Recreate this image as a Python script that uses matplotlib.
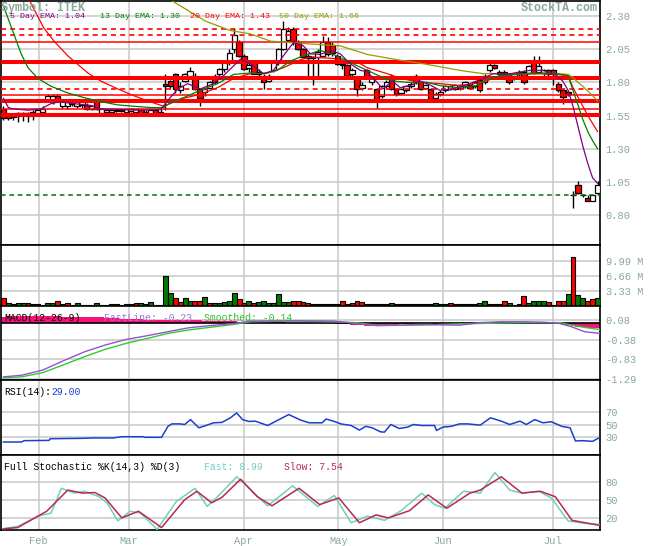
import numpy as np
import matplotlib.pyplot as plt

plt.rcParams['font.family'] = ['Liberation Mono', 'DejaVu Sans Mono']

# ----------- price candles (one per trading day)
opens = [1.60, 1.555, 1.54, 1.55, 1.555, 1.55, 1.56, 1.57, 1.58, 1.66,
         1.66, 1.70, 1.62, 1.62, 1.66, 1.62, 1.63, 1.63, 1.60, 1.66,
         1.57, 1.575, 1.58, 1.585, 1.585, 1.58, 1.585, 1.58, 1.595, 1.58,
         1.565, 1.59, 1.58, 1.79, 1.81, 1.86, 1.74, 1.81, 1.85, 1.85,
         1.75, 1.73, 1.76, 1.85, 1.86, 1.90, 1.95, 2.05, 2.10, 2.00,
         1.91, 1.95, 1.86, 1.85, 1.81, 1.89, 1.95, 2.05, 2.12, 2.20,
         2.10, 2.05, 2.00, 1.98, 1.99, 2.00, 2.10, 2.08, 2.00, 1.93,
         1.93, 1.86, 1.84, 1.76, 1.89, 1.80, 1.75, 1.70, 1.77, 1.85,
         1.75, 1.72, 1.74, 1.77, 1.85, 1.80, 1.76, 1.75, 1.68, 1.71,
         1.74, 1.75, 1.75, 1.76, 1.77, 1.78, 1.77, 1.82, 1.80, 1.89,
         1.93, 1.88, 1.86, 1.86, 1.83, 1.86, 1.88, 1.87, 1.95, 1.88,
         1.87, 1.89, 1.89, 1.79, 1.74, 1.73, 0.95, 1.025, 0.955, 0.93,
         0.91, 0.97]
highs = [1.62, 1.57, 1.57, 1.58, 1.575, 1.575, 1.59, 1.60, 1.62, 1.71,
         1.71, 1.71, 1.67, 1.66, 1.67, 1.66, 1.66, 1.645, 1.63, 1.665,
         1.61, 1.60, 1.60, 1.595, 1.595, 1.60, 1.61, 1.60, 1.60, 1.59,
         1.60, 1.60, 1.60, 1.865, 1.82, 1.87, 1.80, 1.87, 1.915, 1.87,
         1.76, 1.76, 1.81, 1.86, 1.91, 1.97, 2.05, 2.21, 2.12, 2.01,
         1.95, 1.96, 1.90, 1.86, 1.86, 1.96, 2.06, 2.26, 2.22, 2.22,
         2.12, 2.06, 2.02, 2.00, 2.05, 2.15, 2.14, 2.10, 2.01, 1.96,
         1.94, 1.91, 1.85, 1.80, 1.90, 1.85, 1.76, 1.78, 1.82, 1.86,
         1.76, 1.76, 1.78, 1.80, 1.86, 1.81, 1.79, 1.76, 1.73, 1.74,
         1.78, 1.78, 1.79, 1.79, 1.81, 1.79, 1.81, 1.83, 1.86, 1.95,
         1.94, 1.89, 1.89, 1.87, 1.87, 1.89, 1.89, 1.93, 2.00, 2.00,
         1.90, 1.90, 1.90, 1.80, 1.75, 1.74, 0.98, 1.06, 0.96, 0.95,
         0.95, 1.06]
lows = [1.52, 1.52, 1.52, 1.50, 1.51, 1.50, 1.52, 1.55, 1.57, 1.65,
        1.64, 1.65, 1.61, 1.60, 1.62, 1.61, 1.61, 1.59, 1.59, 1.59,
        1.56, 1.56, 1.565, 1.575, 1.575, 1.57, 1.575, 1.57, 1.55, 1.555,
        1.56, 1.555, 1.555, 1.59, 1.76, 1.72, 1.72, 1.80, 1.84, 1.74,
        1.62, 1.70, 1.75, 1.79, 1.85, 1.88, 1.93, 2.02, 1.99, 1.89,
        1.88, 1.86, 1.84, 1.75, 1.80, 1.88, 1.93, 2.04, 2.10, 2.08,
        2.04, 1.98, 1.85, 1.78, 1.85, 1.99, 2.00, 2.00, 1.93, 1.90,
        1.84, 1.85, 1.70, 1.74, 1.83, 1.78, 1.61, 1.68, 1.75, 1.74,
        1.70, 1.71, 1.73, 1.76, 1.79, 1.74, 1.75, 1.65, 1.66, 1.70,
        1.73, 1.74, 1.74, 1.74, 1.76, 1.75, 1.76, 1.73, 1.79, 1.88,
        1.90, 1.85, 1.85, 1.79, 1.82, 1.85, 1.79, 1.86, 1.86, 1.87,
        1.85, 1.84, 1.78, 1.73, 1.64, 1.70, 0.85, 0.96, 0.94, 0.91,
        0.91, 0.96]
closes = [1.53, 1.53, 1.555, 1.57, 1.57, 1.57, 1.58, 1.59, 1.60, 1.70,
          1.70, 1.66, 1.66, 1.65, 1.635, 1.65, 1.65, 1.60, 1.625, 1.60,
          1.60, 1.595, 1.59, 1.59, 1.585, 1.60, 1.60, 1.60, 1.56, 1.565,
          1.59, 1.56, 1.565, 1.77, 1.775, 1.75, 1.77, 1.865, 1.885, 1.75,
          1.68, 1.75, 1.80, 1.80, 1.90, 1.95, 2.02, 2.16, 2.00, 1.90,
          1.93, 1.865, 1.88, 1.80, 1.85, 1.95, 2.05, 2.20, 2.19, 2.11,
          2.05, 1.99, 1.98, 1.99, 2.03, 2.10, 2.01, 2.02, 1.94, 1.94,
          1.85, 1.89, 1.75, 1.78, 1.84, 1.84, 1.66, 1.77, 1.80, 1.75,
          1.71, 1.75, 1.77, 1.79, 1.80, 1.75, 1.78, 1.67, 1.71, 1.73,
          1.77, 1.77, 1.78, 1.78, 1.80, 1.76, 1.80, 1.74, 1.85, 1.93,
          1.91, 1.86, 1.88, 1.80, 1.86, 1.88, 1.80, 1.92, 1.87, 1.92,
          1.89, 1.86, 1.87, 1.74, 1.69, 1.71, 0.95, 0.965, 0.95, 0.91,
          0.95, 1.03]

# support / resistance levels
sr_dashed = [2.20, 2.155, 1.752]
sr_thin = [2.105, 1.707, 1.60]
sr_thick = [1.955, 1.833, 1.657, 1.557]
stop_level = [0.948]

# ----------- moving averages (read at points along each curve)
ema5_x = [0, 1, 2, 5, 7.6, 9.7, 11.7, 14.3, 17.8, 19.8, 23.9, 28, 32, 33.4, 35.5,
          37.5, 40.1, 42.8, 44.8, 46.9, 48.3, 50.3, 53, 55, 57, 59.1, 61.1, 62.5, 64.5,
          66.6, 68.6, 70.6, 72.7, 74.1, 76.1, 77.3, 79.2, 80.8, 82.8, 84.9, 86.9, 88.9,
          91.6, 95, 97.7, 99.7, 103.2, 107.2, 109.9, 112.7, 113.9, 115, 116, 117, 118,
          119, 120, 121]
ema5_v = [1.68, 1.61, 1.60, 1.59, 1.60, 1.64, 1.655, 1.64, 1.625, 1.60, 1.595, 1.59, 1.595,
          1.66, 1.75, 1.79, 1.75, 1.79, 1.85, 1.925, 1.975, 1.94, 1.865, 1.89, 2.00, 2.10,
          2.075, 2.015, 2.01, 2.04, 2.015, 1.94, 1.89, 1.88, 1.80, 1.75, 1.81, 1.76, 1.775,
          1.81, 1.78, 1.74, 1.75, 1.79, 1.83, 1.865, 1.865, 1.89, 1.89, 1.85, 1.81, 1.74,
          1.62, 1.47, 1.32, 1.19, 1.08, 1.04]
ema13_x = [0, 1.5, 3.6, 5, 7, 9.7, 13.1, 16.4, 19.8, 23.3, 26.5, 30, 32.6, 34.1, 36.7,
           40.1, 43.6, 46.9, 50.3, 53, 55.8, 58.4, 61.1, 64.5, 67.2, 70.6, 74.1, 77.3,
           79.4, 82.2, 86.3, 88.9, 92.4, 96.4, 97.7, 101.1, 107.8, 111.9, 115, 116, 117,
           118, 119, 120, 121]
ema13_v = [2.375, 2.225, 2.015, 1.91, 1.83, 1.77, 1.72, 1.685, 1.655, 1.63, 1.62, 1.61,
           1.61, 1.65, 1.685, 1.74, 1.79, 1.86, 1.87, 1.865, 1.89, 1.96, 2.00, 2.04, 2.01,
           1.95, 1.89, 1.835, 1.81, 1.80, 1.80, 1.775, 1.76, 1.775, 1.81, 1.85, 1.87, 1.87,
           1.85, 1.74, 1.63, 1.52, 1.43, 1.36, 1.30]
ema20_x = [5.4, 8.2, 10.3, 13.1, 17.2, 19.8, 23.3, 26.5, 29.4, 32.6, 36.7, 40.1, 43.6,
           46.9, 50.3, 53.8, 57, 60.5, 62.5, 67.2, 72.7, 74.1, 78.2, 80.8, 84.9, 88.9, 93,
           97.7, 99.7, 104.6, 111.3, 115, 116, 117, 118, 119, 120, 121]
ema20_v = [2.41, 2.21, 2.11, 2.00, 1.87, 1.81, 1.75, 1.70, 1.66, 1.62, 1.68, 1.71, 1.76,
           1.83, 1.865, 1.87, 1.91, 1.97, 1.99, 1.98, 1.94, 1.91, 1.865, 1.83, 1.80, 1.79,
           1.775, 1.80, 1.83, 1.865, 1.865, 1.85, 1.76, 1.69, 1.62, 1.55, 1.49, 1.43]
ema50_x = [34.5, 41.2, 46.2, 50.3, 54.4, 60.5, 62, 68.6, 74.1, 80.2, 85.5, 93, 97.7, 104.6,
           112.7, 115, 116, 117, 118, 119, 120, 121]
ema50_v = [2.41, 2.26, 2.19, 2.165, 2.11, 2.095, 2.09, 2.075, 2.01, 1.97, 1.94, 1.89, 1.865,
           1.865, 1.865, 1.86, 1.835, 1.80, 1.77, 1.735, 1.70, 1.66]

# ----------- volume (millions), g = up day, r = down day
volume = [1.7, 0.6, 0.4, 0.6, 0.6, 0.6, 0.4, 0.4, 0.3, 0.6,
          0.6, 1.1, 0.4, 0.6, 0.3, 0.6, 0.2, 0.2, 0.2, 0.6,
          0.2, 0.2, 0.4, 0.4, 0.2, 0.4, 0.4, 0.6, 0.6, 0.4,
          0.8, 0.3, 0.3, 6.7, 2.8, 1.7, 0.9, 1.7, 1.2, 1.2,
          1.2, 1.9, 0.6, 0.6, 0.6, 0.8, 1.2, 2.8, 1.5, 0.6,
          1.2, 0.6, 0.85, 1.0, 0.6, 0.6, 2.6, 0.8, 0.8, 1.2,
          1.1, 0.85, 0.75, 0.55, 0.55, 0.55, 0.5, 0.5, 0.5, 1.0,
          0.45, 0.7, 1.2, 0.85, 0.5, 0.45, 0.45, 0.45, 0.45, 0.75,
          0.45, 0.45, 0.5, 0.45, 0.4, 0.45, 0.45, 0.5, 0.6, 0.5,
          0.45, 0.6, 0.4, 0.5, 0.5, 0.5, 0.45, 0.6, 1.0, 0.5,
          0.45, 0.5, 1.1, 0.6, 0.3, 0.5, 2.2, 0.6, 1.2, 1.1,
          1.2, 0.8, 0.3, 1.2, 1.1, 2.6, 10.9, 2.5, 1.8, 1.2,
          1.45, 1.7]
vol_dir = ("rggggrgrgg" "grgrggggrg" "ggggrgrrgg" "gggggrrggr" "rgrgggggrr"
           "grgggggggr" "rrrggggrgr" "grrrgggrgg" "rgrggggrgg" "grrggrgggr"
           "rrrgggrggg" "grgrrgrggr" "rg")

# ----------- MACD
macd_x = [0, 3.7, 8, 12.2, 16.5, 20.7, 25, 29.2, 33.5, 37.7, 42, 47, 50.4, 59, 67.4,
          71.7, 76, 81, 84.4, 92.9, 97.1, 101.4, 105.6, 109.9, 113.3, 115.8, 118.3, 121.5]
macd_fast = [-1.237, -1.20, -1.08, -0.865, -0.657, -0.50, -0.37, -0.285, -0.19, -0.10,
             -0.05, 0.0, 0.056, 0.063, 0.056, 0.0, -0.05, -0.04, -0.02, -0.04,
             0.02, 0.04, 0.04, 0.03, 0.0, -0.08, -0.19, -0.23]
macd_slow = [-1.26, -1.237, -1.14, -0.96, -0.77, -0.60, -0.46, -0.35, -0.23, -0.15,
             -0.09, -0.02, 0.04, 0.056, 0.04, 0.02, -0.04, -0.04, -0.04, -0.01,
             0.0, 0.01, 0.02, 0.02, 0.02, -0.04, -0.09, -0.14]
macd_hist = [0.16, 0.17, 0.17, 0.17, 0.18, 0.18, 0.17, 0.17, 0.17, 0.17,
             0.17, 0.17, 0.16, 0.16, 0.16, 0.16, 0.15, 0.15, 0.15, 0.14,
             0.14, 0.13, 0.12, 0.12, 0.11, 0.11, 0.10, 0.10, 0.10, 0.09,
             0.09, 0.09, 0.08, 0.09, 0.09, 0.08, 0.08, 0.08, 0.07, 0.07,
             0.07, 0.06, 0.06, 0.06, 0.05, 0.05, 0.05, 0.05, 0.04, 0.04,
             0.04, 0.04, 0.03, 0.03, 0.03, 0.03, 0.03, 0.03, 0.02, 0.02,
             0.02, 0.02, 0.01, 0.01, 0.01, 0.01, 0.00, 0.00, -0.01, -0.02,
             -0.02, -0.03, -0.04, -0.04, -0.05, -0.05, -0.04, -0.04, -0.03, -0.04,
             -0.03, -0.02, -0.02, -0.01, -0.01, -0.01, 0.00, 0.00, -0.01, 0.00,
             0.00, 0.00, 0.00, 0.01, 0.01, 0.01, 0.01, 0.02, 0.02, 0.02,
             0.02, 0.03, 0.02, 0.02, 0.01, 0.01, 0.01, 0.00, 0.00, 0.00,
             0.00, 0.00, -0.01, -0.02, -0.03, -0.04, -0.06, -0.08, -0.09, -0.10,
             -0.10, -0.11]

# ----------- RSI(14)
rsi_x = [0, 3.7, 4.2, 9.3, 9.5, 15.6, 18.6, 22.4, 24.1, 28.4, 28.8, 32.2, 33.5, 34.3,
         36, 36.9, 38.1, 39.8, 41.1, 42.8, 44.5, 46.2, 47.5, 48.7, 50, 51.3, 53.8, 58.1,
         60.6, 62.3, 64.9, 65.7, 67.4, 68.7, 70.8, 72.5, 73.8, 75.1, 76.8, 77.6, 78.9,
         80.6, 82.3, 83.5, 85.2, 87.8, 88.2, 89.5, 91.2, 92.9, 94.6, 97.1, 99.2, 101.4,
         103.1, 105.2, 106.5, 108.2, 109.9, 111.6, 113.7, 115.4, 116.5, 117.9, 120, 121.5]
rsi_v = [21.3, 21.3, 23.5, 24, 26.7, 27.3, 28, 28, 30, 30, 29, 29, 47, 51, 51, 50, 58,
         44.6, 48, 52.8, 53.5, 60.9, 69, 58, 55, 55.5, 48.4, 66.3, 57, 52.8, 52.8, 59, 55,
         51, 48.4, 40.8, 47, 44.6, 38, 37.5, 50, 43.5, 45.7, 50, 48.4, 48.4, 40.3, 45.7,
         47, 51, 51, 49, 61, 55.5, 50, 55.5, 50, 58, 52.8, 54.5, 47, 44.6, 23, 23.5,
         22.4, 29.00]

# ----------- Full stochastic
stk_x = [0, 2.9, 7.1, 9.7, 11.8, 14.4, 16.5, 19.5, 21.1, 23.3, 25.8, 27.9, 31.3, 35.2,
         39, 41.5, 43.6, 47.5, 50.4, 53.8, 58.9, 64, 67.4, 70.8, 74.2, 77.6, 81, 85.2,
         87.8, 89.9, 93.7, 97.1, 100.1, 103.1, 105.6, 109, 111.6, 115, 118.3, 121.5]
stk_v = [2, 6, 23, 28, 69, 61, 64, 55, 45, 15, 31, 28, 1, 47, 69, 39, 55, 88, 66, 40,
         73, 39, 57, 12, 23, 16, 32, 61, 42, 36, 64, 61, 95, 66, 61, 64, 53, 15, 11, 8.99]
std_x = [0, 2.9, 8.8, 13.1, 16.1, 18.6, 20.7, 24.1, 27.5, 32.2, 36.9, 39.4, 42.4, 44.5,
         48.3, 51.7, 54.7, 60.2, 64.4, 68.3, 72.5, 75.9, 78.4, 82.7, 86.5, 90.3, 95, 97.1,
         101.4, 105.6, 109.4, 112.4, 115.8, 121.5]
std_v = [2, 4, 31, 66, 61, 62, 53, 20, 31, 4, 50, 64, 45, 54, 84, 55, 40, 69, 42, 53,
         12, 25, 20, 32, 58, 36, 61, 66, 88, 61, 64, 55, 16, 7.54]

month_pos = [7.2, 25.5, 48.9, 68.2, 89.5, 111.9]
month_names = ['Feb', 'Mar', 'Apr', 'May', 'Jun', 'Jul']

# ----------- colors
gray = '#8aa89c'
c5, c13, c20, c50 = '#800080', '#008000', '#ff0000', '#999900'

# ----------- figure
W, H = 655, 546
fig = plt.figure(figsize=(W / 100, H / 100), dpi=100)


def panel(top, bottom):
    return fig.add_axes([1 / W, 1 - bottom / H, 599 / W, (bottom - top) / H])


def style(ax, ylim, yticks, ylabels):
    ax.set_xlim(-0.5, 121.5)
    ax.set_ylim(*ylim)
    ax.set_xticks(month_pos)
    ax.set_xticklabels([])
    ax.set_yticks(yticks)
    ax.set_yticklabels(ylabels)
    ax.yaxis.tick_right()
    ax.tick_params(length=0, labelsize=7.5, labelcolor=gray, pad=4)
    ax.grid(True, color='#c8c8c8', lw=1.1)
    ax.set_axisbelow(True)
    for s in ax.spines.values():
        s.set_linewidth(1.2)


def label(x, y, s, c, size=7, **kw):
    fig.text(x / W, 1 - y / H, s, color=c, fontsize=size, va='center', ha='left', **kw)


x = np.arange(len(closes))
o = np.array(opens)
cl = np.array(closes)

# ----------- price panel
ax_p = panel(1, 245)
price_ticks = [0.80, 1.05, 1.30, 1.55, 1.80, 2.05, 2.30]
style(ax_p, (0.575, 2.4125), price_ticks, ['%.2f' % t for t in price_ticks])
ax_p.vlines(x, lows, highs, color='black', lw=1, zorder=2)
body = np.maximum(np.abs(cl - o), 0.004)
ax_p.bar(x, body, bottom=np.minimum(o, cl), width=1.1,
         color=np.where(cl >= o, 'white', '#ff0000'), edgecolor='black', lw=0.9, zorder=3)
for lv in sr_thick:
    ax_p.axhline(lv, color='#ff0000', lw=2.9, zorder=4)
for lv in sr_thin:
    ax_p.axhline(lv, color='#ff0000', lw=1.1, zorder=4)
for lv in sr_dashed:
    ax_p.axhline(lv, color='#ff0000', lw=1.2, ls=(0, (3, 2.5)), zorder=4)
for lv in stop_level:
    ax_p.axhline(lv, color='#006f00', lw=1.1, ls=(0, (3, 2.5)), zorder=4)
ax_p.plot(ema50_x, ema50_v, color=c50, lw=0.9, zorder=5)
ax_p.plot(ema20_x, ema20_v, color=c20, lw=0.9, zorder=5)
ax_p.plot(ema13_x, ema13_v, color=c13, lw=0.9, zorder=5)
ax_p.plot(ema5_x, ema5_v, color=c5, lw=0.9, zorder=5)

label(1, 8, 'Symbol: ITEK', gray, 8.5, fontweight='bold')
label(521, 8, 'StockTA.com', gray, 8.5, fontweight='bold')
label(10, 16, '5 Day EMA: %.2f' % ema5_v[-1], c5, 6)
label(100, 16, '13 Day EMA: %.2f' % ema13_v[-1], c13, 6)
label(190, 16, '20 Day EMA: %.2f' % ema20_v[-1], c20, 6)
label(279, 16, '50 Day EMA: %.2f' % ema50_v[-1], c50, 6)

# ----------- volume panel
ax_v = panel(245, 306)
style(ax_v, (0, 13.5), [3.33, 6.66, 9.99], ['3.33 M', '6.66 M', '9.99 M'])
vcol = ['#007a00' if d == 'g' else '#ff0000' for d in vol_dir]
ax_v.bar(x, volume, width=1.0, color=vcol, edgecolor='black', lw=0.8, zorder=3)

# ----------- MACD panel
ax_m = panel(306, 380)
macd_ticks = [0.08, -0.38, -0.83, -1.29]
style(ax_m, (-1.31, 0.405), macd_ticks, ['%.2f' % t for t in macd_ticks])
ax_m.bar(x, macd_hist, width=1.0, color='#f5137a', lw=0, zorder=2)
ax_m.axhline(0, color='black', lw=1.2, zorder=2.5)
ax_m.plot(macd_x, macd_slow, color='#2ecc2e', lw=1, zorder=3)
ax_m.plot(macd_x, macd_fast, color='#9b4fd0', lw=1, zorder=3)
label(4, 318, 'MACD(12-26-9)', 'black')
label(104, 318, 'FastLine: %.2f' % macd_fast[-1], '#a070d0')
label(204, 318, 'Smoothed: %.2f' % macd_slow[-1], '#30c030')

# ----------- RSI panel
ax_r = panel(380, 455)
style(ax_r, (0, 123), [30, 50, 70], ['30', '50', '70'])
ax_r.plot(rsi_x, rsi_v, color='#1a3fd0', lw=1.1, zorder=3)
label(4, 392, 'RSI(14):', 'black')
label(51, 392, '%.2f' % rsi_v[-1], '#1a3fd0')

# ----------- stochastic panel
ax_s = panel(455, 530)
style(ax_s, (0, 124), [20, 50, 80], ['20', '50', '80'])
ax_s.plot(stk_x, stk_v, color='#6fd0c0', lw=1.1, zorder=3)
ax_s.plot(std_x, std_v, color='#b8284f', lw=1.1, zorder=3)
ax_s.set_xticklabels(month_names)
ax_s.tick_params(axis='x', labelcolor=gray, labelsize=7.5, pad=4)
label(4, 467, 'Full Stochastic %K(14,3) %D(3)', 'black')
label(204, 467, 'Fast: %.2f' % stk_v[-1], '#6fd0c0')
label(284, 467, 'Slow: %.2f' % std_v[-1], '#b8284f')

fig.savefig('out.png', dpi=100)
